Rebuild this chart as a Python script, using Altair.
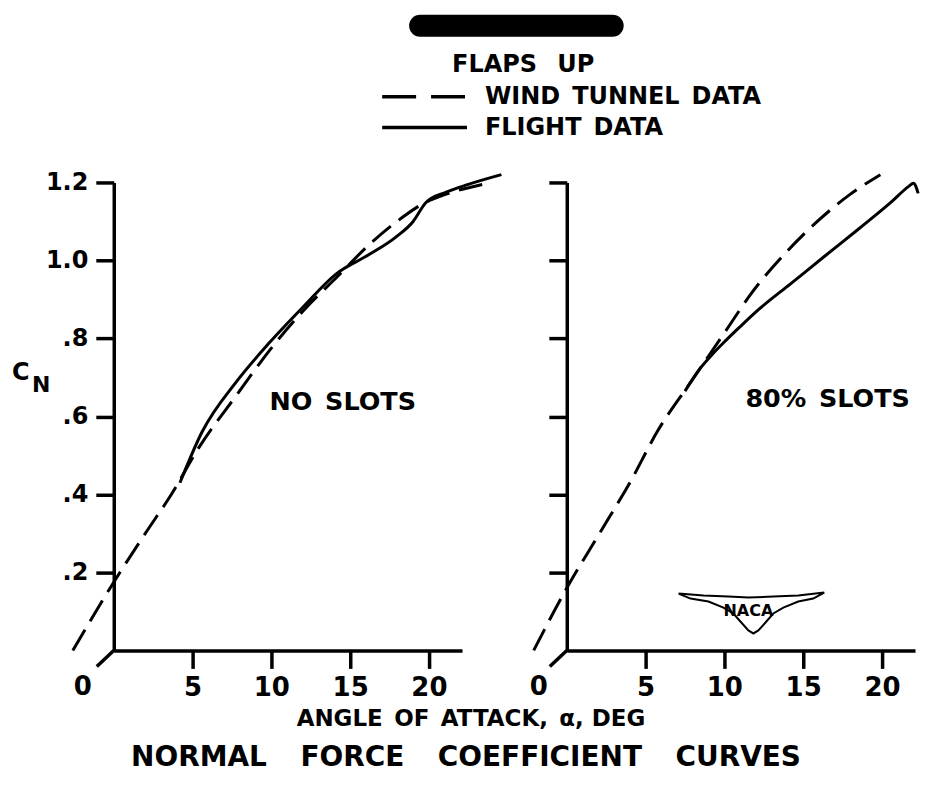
import altair as alt
import pandas as pd

# ---- data ----
LEFT_TUNNEL_ALPHA = [-2.6, 0.0, 2.0, 3.65, 5.4, 7.8, 9.9, 12.0, 14.1, 16.2, 18.3, 19.6, 21.1, 23.4]
LEFT_TUNNEL_CN = [0.0, 0.175, 0.30, 0.40, 0.52, 0.655, 0.77, 0.87, 0.955, 1.04, 1.11, 1.145, 1.17, 1.195]
LEFT_FLIGHT_ALPHA = [4.2, 5.6, 7.8, 9.9, 12.0, 14.1, 16.2, 17.9, 19.0, 19.8, 21.1, 22.5, 24.6]
LEFT_FLIGHT_CN = [0.43, 0.56, 0.69, 0.79, 0.88, 0.965, 1.015, 1.06, 1.10, 1.148, 1.175, 1.195, 1.22]

RIGHT_TUNNEL_ALPHA = [-2.1, 0.0, 2.0, 4.0, 5.8, 7.9, 10.1, 11.7, 13.9, 15.9, 18.0, 19.9]
RIGHT_TUNNEL_CN = [0.0, 0.16, 0.295, 0.43, 0.565, 0.69, 0.82, 0.915, 1.02, 1.10, 1.17, 1.22]
RIGHT_FLIGHT_ALPHA = [7.5, 8.5, 9.3, 10.1, 11.0, 12.2, 14.2, 16.4, 18.5, 20.6, 21.7, 22.0, 22.3]
RIGHT_FLIGHT_CN = [0.665, 0.725, 0.762, 0.795, 0.83, 0.875, 0.94, 1.012, 1.08, 1.15, 1.19, 1.198, 1.172]

X_TICKS = [5, 10, 15, 20]
Y_TICKS = [0.2, 0.4, 0.6, 0.8, 1.0, 1.2]
SERIES = ["WIND TUNNEL DATA", "FLIGHT DATA"]
PANEL_LABELS = ["NO SLOTS", "80% SLOTS"]

FONT = "DejaVu Sans"
W, H = 349, 469
X_DOMAIN = [0, 22.1]
Y_DOMAIN = [0, 1.2]
EN = "\u2002"
EM = "\u2003"


def spaced(s, gap=EN):
    return s.replace(" ", gap)


def frame(a, c):
    return pd.DataFrame({"alpha": a, "cn": c, "order": range(len(a))})


def xenc():
    return alt.X("alpha:Q", scale=alt.Scale(domain=X_DOMAIN, nice=False, zero=False),
                 axis=alt.Axis(values=X_TICKS, format="d", tickSize=18, tickWidth=3.5,
                               tickColor="black", domainColor="black", domainWidth=3.5,
                               labelFont=FONT, labelFontSize=26, labelFontWeight="bold",
                               labelColor="black", labelPadding=6, grid=False, title=None))


def yenc(labels):
    return alt.Y("cn:Q", scale=alt.Scale(domain=Y_DOMAIN, nice=False, zero=False),
                 axis=alt.Axis(values=Y_TICKS, labels=labels,
                               labelExpr="datum.value >= 1 ? format(datum.value, '.1f') : replace(format(datum.value, '.1f'), '0.', '.')",
                               tickSize=18, tickWidth=3.5, tickColor="black",
                               domainColor="black", domainWidth=3.5,
                               labelFont=FONT, labelFontSize=24, labelFontWeight="bold",
                               labelColor="black", labelPadding=8, grid=False, title=None))


def panel(ta, tc, fa, fc, labels, zero_dx):
    tunnel = alt.Chart(frame(ta, tc)).mark_line(
        color="black", strokeWidth=3, strokeDash=[24, 10], interpolate="monotone", clip=False
    ).encode(x=xenc(), y=yenc(labels), order="order:Q")
    flight = alt.Chart(frame(fa, fc)).mark_line(
        color="black", strokeWidth=3, interpolate="monotone", clip=False
    ).encode(x="alpha:Q", y="cn:Q", order="order:Q")
    zero_tick = alt.Chart(pd.DataFrame({"k": [0]})).mark_rule(
        color="black", strokeWidth=3.5
    ).encode(x=alt.value(0), x2=alt.value(-17), y=alt.value(H), y2=alt.value(H + 16))
    zero_lab = alt.Chart(pd.DataFrame({"t": ["0"]})).mark_text(
        font=FONT, fontSize=26, fontWeight="bold", color="black", baseline="middle"
    ).encode(x=alt.value(zero_dx), y=alt.value(H + 37), text="t:N")
    return [tunnel, flight, zero_tick, zero_lab]


def text(s, x, y, size, align="left", weight="bold"):
    return alt.Chart(pd.DataFrame({"t": [s]})).mark_text(
        font=FONT, fontSize=size, fontWeight=weight, color="black",
        align=align, baseline="middle"
    ).encode(x=alt.value(x), y=alt.value(y), text="t:N")


def hline(x1, x2, y, width, dash=None, cap="butt"):
    kw = dict(color="black", strokeWidth=width, strokeCap=cap)
    if dash:
        kw["strokeDash"] = dash
    return alt.Chart(pd.DataFrame({"k": [0]})).mark_rule(**kw).encode(
        x=alt.value(x1), x2=alt.value(x2), y=alt.value(y))


# ---- left panel ----
left_layers = panel(LEFT_TUNNEL_ALPHA, LEFT_TUNNEL_CN, LEFT_FLIGHT_ALPHA, LEFT_FLIGHT_CN, True, -31)
left_layers += [
    text(spaced(PANEL_LABELS[0]), 156, 220, 25.5),
    text("C", -102, 191, 24),
    text("N", -82, 203, 22),
    # header / legend
    hline(307, 500, -157, 22, cap="round"),
    text(spaced("FLAPS UP", EN + " "), 339, -118, 24),
    hline(269, 353, -86, 3.5, dash=[34, 15]),
    text(spaced(SERIES[0]), 372, -86, 24),
    hline(269, 354, -55, 3.5),
    text(spaced(SERIES[1]), 372, -55, 24),
    # axis title and figure title
    text("ANGLE" + EN + "OF" + EN + "ATTACK," + EN + "\u03b1, DEG", 358, 538, 23, align="center"),
    text(spaced("NORMAL FORCE COEFFICIENT CURVES", EM + "\u2009"), 353, 577, 28, align="center"),
]
left = alt.layer(*left_layers).properties(width=W, height=H)

# ---- right panel ----
WING_X = [0, 25, 50, 70, 95, 120, 146, 135, 120, 105, 95, 88, 80, 75, 70, 62, 55, 45, 30, 12, 0]
WING_Y = [0, 2, 3, 4, 3, 2, -1, 5, 8, 14, 20, 28, 37, 40, 37, 28, 20, 14, 8, 5, 0]
right_layers = panel(RIGHT_TUNNEL_ALPHA, RIGHT_TUNNEL_CN, RIGHT_FLIGHT_ALPHA, RIGHT_FLIGHT_CN, False, -28)
wing = alt.Chart(pd.DataFrame({"wx": [v + 112 for v in WING_X], "wy": [v + 412 for v in WING_Y],
                               "o": range(len(WING_X))})).mark_line(
    color="black", strokeWidth=2, clip=False
).encode(x=alt.X("wx:Q", scale=None), y=alt.Y("wy:Q", scale=None), order="o:Q")
right_layers += [
    text(spaced(PANEL_LABELS[1]), 179, 217, 25.5),
    wing,
    text("NACA", 182, 429, 16, align="center"),
]
right = alt.layer(*right_layers).properties(width=W, height=H)

chart = alt.hconcat(left, right, spacing=105, bounds="flush").properties(
    padding={"left": 4, "top": 6, "right": 0, "bottom": 0}
).configure(background="white", view=alt.ViewConfig(stroke=None))

chart.save("out.html", embed_options={"renderer": "svg", "actions": False})
